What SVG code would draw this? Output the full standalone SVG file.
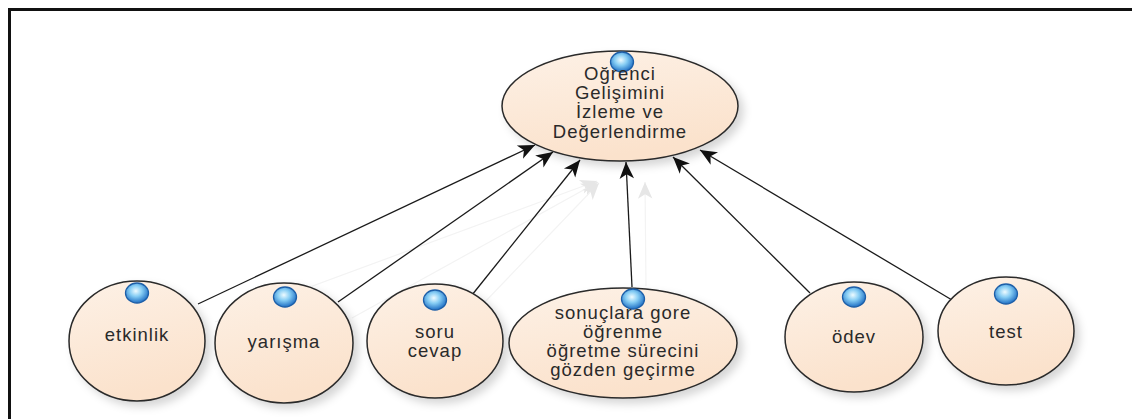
<svg xmlns="http://www.w3.org/2000/svg" width="1132" height="419" viewBox="0 0 1132 419">
  <defs>
    <linearGradient id="nodeFill" x1="0" y1="0" x2="0.3" y2="1">
      <stop offset="0" stop-color="#fdf1e6"/>
      <stop offset="1" stop-color="#fbe2cc"/>
    </linearGradient>
    <radialGradient id="ballFill" cx="0.45" cy="0.4" r="0.6">
      <stop offset="0" stop-color="#eefbff"/>
      <stop offset="0.45" stop-color="#86cdf4"/>
      <stop offset="1" stop-color="#1f6fc4"/>
    </radialGradient>
    <filter id="shadow" x="-20%" y="-20%" width="150%" height="150%">
      <feDropShadow dx="5" dy="5" stdDeviation="4" flood-color="#000" flood-opacity="0.16"/>
    </filter>
    <marker id="arrow" markerUnits="userSpaceOnUse" markerWidth="20" markerHeight="20" viewBox="-16 -8 18 16" refX="0" refY="0" orient="auto">
      <path d="M0,0 L-15,-6.5 L-11,0 L-15,6.5 Z" fill="#111"/>
    </marker>
    <marker id="ghostArrow" markerUnits="userSpaceOnUse" markerWidth="20" markerHeight="20" viewBox="-16 -8 18 16" refX="0" refY="0" orient="auto">
      <path d="M0,0 L-15,-6.5 L-11,0 L-15,6.5 Z" fill="#e6e6e6"/>
    </marker>
  </defs>
  <style>
    .node { fill: url(#nodeFill); stroke: #2a2a2a; stroke-width: 1.5; filter: url(#shadow); }
    .ball { fill: url(#ballFill); stroke: #1d5fa8; stroke-width: 1.3; }
    .label { font-family: "Liberation Sans", Arial, sans-serif; font-size: 18.5px; letter-spacing: 1px; fill: #2a2a2a; text-anchor: middle; }
    .edge { stroke: #1a1a1a; stroke-width: 1.3; fill: none; marker-end: url(#arrow); }
    .ghost { stroke: #f3f3f3; stroke-width: 1.2; fill: none; marker-end: url(#ghostArrow); }
  </style>

  <rect x="0" y="0" width="1132" height="419" fill="#ffffff"/>

  <!-- frame: top and left edges only -->
  <path d="M9.5,419 L9.5,9.5 L1132,9.5" fill="none" stroke="#111" stroke-width="3"/>

  <!-- connectors -->
  <g id="connectors">
    <line class="ghost" x1="215" y1="322" x2="597" y2="181"/>
    <line class="ghost" x1="352" y1="318" x2="598" y2="182"/>
    <line class="ghost" x1="482" y1="305" x2="599" y2="183"/>
    <line class="ghost" x1="646" y1="286" x2="645" y2="182"/>
    <line class="edge" x1="198" y1="304" x2="535" y2="145"/>
    <line class="edge" x1="338" y1="302" x2="553" y2="152"/>
    <line class="edge" x1="472" y1="295" x2="580" y2="160"/>
    <line class="edge" x1="632" y1="287" x2="626" y2="162"/>
    <line class="edge" x1="810" y1="293" x2="673" y2="157"/>
    <line class="edge" x1="952" y1="300" x2="700" y2="150"/>
  </g>

  <g id="node-main">
    <ellipse class="node" cx="620" cy="106" rx="118" ry="55"/>
    <ellipse class="ball" cx="622" cy="62" rx="11.5" ry="10"/>
    <text class="label" x="620" y="80">Oğrenci</text>
    <text class="label" x="620" y="99">Gelişimini</text>
    <text class="label" x="620" y="118">İzleme ve</text>
    <text class="label" x="620" y="138">Değerlendirme</text>
  </g>

  <g id="node-etkinlik">
    <ellipse class="node" cx="137" cy="341" rx="68" ry="60"/>
    <ellipse class="ball" cx="137" cy="293" rx="11.5" ry="10"/>
    <text class="label" x="137" y="341">etkinlik</text>
  </g>

  <g id="node-yarisma">
    <ellipse class="node" cx="284" cy="343" rx="69" ry="60"/>
    <ellipse class="ball" cx="285" cy="297" rx="11.5" ry="10"/>
    <text class="label" x="284" y="348">yarışma</text>
  </g>

  <g id="node-soru-cevap">
    <ellipse class="node" cx="435" cy="341" rx="68" ry="57"/>
    <ellipse class="ball" cx="435" cy="300" rx="11.5" ry="10"/>
    <text class="label" x="435" y="338">soru</text>
    <text class="label" x="435" y="357">cevap</text>
  </g>

  <g id="node-sonuclara">
    <ellipse class="node" cx="623" cy="343" rx="114" ry="55"/>
    <ellipse class="ball" cx="633" cy="299" rx="11.5" ry="10"/>
    <text class="label" x="623" y="319">sonuçlara gore</text>
    <text class="label" x="623" y="338">öğrenme</text>
    <text class="label" x="623" y="357">öğretme sürecini</text>
    <text class="label" x="623" y="376">gözden geçirme</text>
  </g>

  <g id="node-odev">
    <ellipse class="node" cx="854" cy="337" rx="69" ry="55"/>
    <ellipse class="ball" cx="854" cy="297" rx="11.5" ry="10"/>
    <text class="label" x="854" y="343">ödev</text>
  </g>

  <g id="node-test">
    <ellipse class="node" cx="1006" cy="331" rx="68" ry="54"/>
    <ellipse class="ball" cx="1006" cy="294" rx="11.5" ry="10"/>
    <text class="label" x="1006" y="338">test</text>
  </g>
</svg>
